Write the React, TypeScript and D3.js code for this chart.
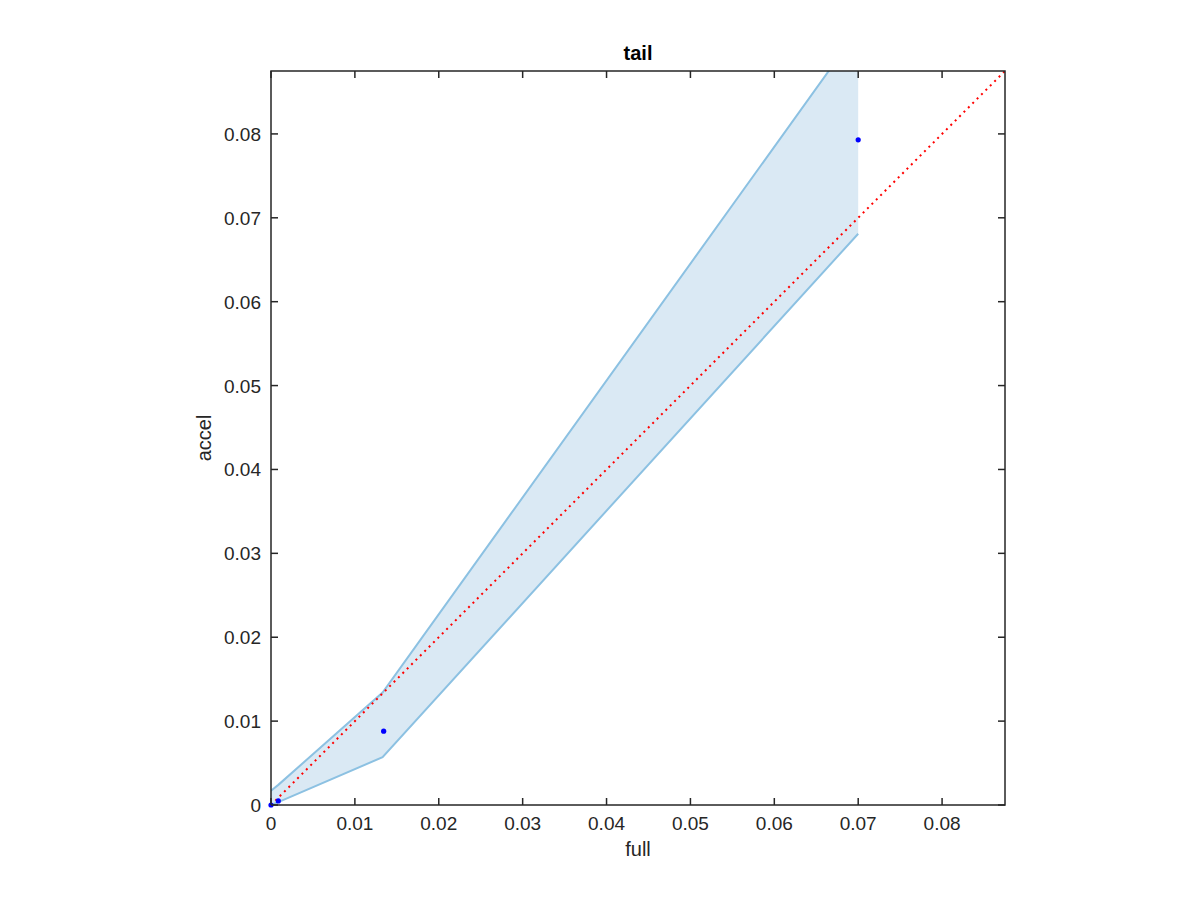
import React from 'react'
import * as d3 from 'd3'

// band x positions and bounds
const bandX = [0, 0.00087, 0.0133, 0.07]
const bandUpper = [0.0017, 0.0024, 0.0134, 0.0924]
const bandLower = [0, 0.00035, 0.0057, 0.0681]

// blue estimate points
const pointX = [0, 0.00087, 0.01343, 0.07]
const pointY = [0, 0.00048, 0.0088, 0.0793]

const xTicks = [0, 0.01, 0.02, 0.03, 0.04, 0.05, 0.06, 0.07, 0.08]
const yTicks = [0, 0.01, 0.02, 0.03, 0.04, 0.05, 0.06, 0.07, 0.08]
const axisMax = 0.0875

export default function App() {
  const width = 1200
  const height = 900
  const left = 271, right = 1005, top = 71, bottom = 805

  const x = d3.scaleLinear().domain([0, axisMax]).range([left, right])
  const y = d3.scaleLinear().domain([0, axisMax]).range([bottom, top])

  const band = bandX.map((v, i) => ({ x: v, lo: bandLower[i], hi: bandUpper[i] }))
  const area = d3.area<any>().x(d => x(d.x)).y0(d => y(d.lo)).y1(d => y(d.hi))
  const upper = d3.line<any>().x(d => x(d.x)).y(d => y(d.hi))
  const lower = d3.line<any>().x(d => x(d.x)).y(d => y(d.lo))

  const fmt = (v: number) => (v === 0 ? '0' : d3.format('.2f')(v))
  const font = 'Helvetica, Arial, "Liberation Sans", sans-serif'
  const axisColor = '#262626'
  const tick = 7

  return (
    <svg width={width} height={height} style={{ position: 'absolute', left: 0, top: 0, background: '#fff' }} fontFamily={font}>
      <defs>
        <clipPath id="plotClip">
          <rect x={left} y={top} width={right - left} height={bottom - top} />
        </clipPath>
      </defs>
      <rect width={width} height={height} fill="#fff" />
      <g clipPath="url(#plotClip)">
        <path d={area(band) || ''} fill="#dae9f4" stroke="none" />
        <path d={upper(band) || ''} fill="none" stroke="#8cc1e2" strokeWidth={2} />
        <path d={lower(band) || ''} fill="none" stroke="#8cc1e2" strokeWidth={2} />
        <line x1={x(0)} y1={y(0)} x2={x(axisMax)} y2={y(axisMax)} stroke="#ff0000" strokeWidth={2} strokeDasharray="2 4.2" />
      </g>
      {/* box */}
      <rect x={left} y={top} width={right - left} height={bottom - top} fill="none" stroke={axisColor} strokeWidth={1.5} />
      {pointX.map((v, i) => (
        <circle key={i} cx={x(v)} cy={y(pointY[i])} r={2.6} fill="#0000ff" />
      ))}
      {xTicks.map(t => (
        <g key={'x' + t}>
          <line x1={x(t)} x2={x(t)} y1={bottom} y2={bottom - tick} stroke={axisColor} strokeWidth={1.5} />
          <line x1={x(t)} x2={x(t)} y1={top} y2={top + tick} stroke={axisColor} strokeWidth={1.5} />
          <text x={x(t)} y={830} textAnchor="middle" fontSize={19} fill={axisColor}>{fmt(t)}</text>
        </g>
      ))}
      {yTicks.map(t => (
        <g key={'y' + t}>
          <line x1={left} x2={left + tick} y1={y(t)} y2={y(t)} stroke={axisColor} strokeWidth={1.5} />
          <line x1={right} x2={right - tick} y1={y(t)} y2={y(t)} stroke={axisColor} strokeWidth={1.5} />
          <text x={261} y={y(t) + 7} textAnchor="end" fontSize={19} fill={axisColor}>{fmt(t)}</text>
        </g>
      ))}
      <text x={(left + right) / 2} y={856} textAnchor="middle" fontSize={20} fill={axisColor}>full</text>
      <text transform={`translate(211, ${(top + bottom) / 2}) rotate(-90)`} textAnchor="middle" fontSize={20} fill={axisColor}>accel</text>
      <text x={(left + right) / 2} y={60} textAnchor="middle" fontSize={20} fontWeight="bold" fill="#000">tail</text>
    </svg>
  )
}
